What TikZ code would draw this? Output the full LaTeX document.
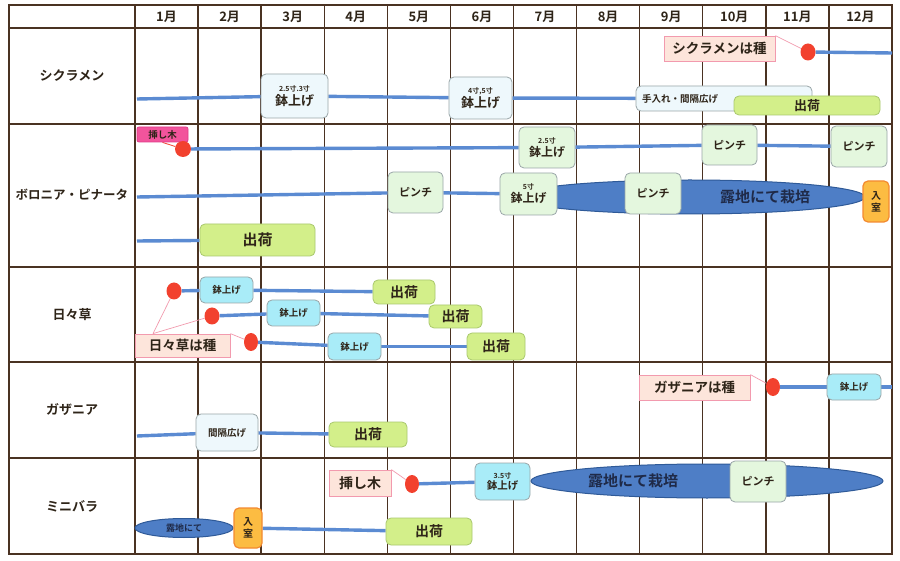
\documentclass[tikz,border=0pt]{standalone}
\usepackage{fontspec}
\setmainfont{Noto Sans CJK JP}[BoldFont={Noto Sans CJK JP Bold}]
\usetikzlibrary{shapes.geometric}
\pgfdeclarelayer{bg}\pgfdeclarelayer{mid}
\pgfsetlayers{bg,mid,main}
\definecolor{gridc}{HTML}{4A3222}
\definecolor{barc}{HTML}{5B8BD2}
\definecolor{txt}{HTML}{2E2418}
\definecolor{wfill}{HTML}{EEF8FC}
\definecolor{gfill}{HTML}{E4F7DE}
\definecolor{sfill}{HTML}{D3EF8A}
\definecolor{sdraw}{HTML}{A9C86E}
\definecolor{cfill}{HTML}{A9ECF8}
\definecolor{pfill}{HTML}{FDE5DB}
\definecolor{pdraw}{HTML}{F29AAE}
\definecolor{ofill}{HTML}{FCBC42}
\definecolor{odraw}{HTML}{F38A30}
\definecolor{mfill}{HTML}{F2549C}
\definecolor{mdraw}{HTML}{E03A88}
\definecolor{dotc}{HTML}{F2412E}
\definecolor{fieldc}{HTML}{4E7EC6}
\definecolor{fieldd}{HTML}{2F5A98}
\definecolor{fieldt}{HTML}{1F2A48}
\definecolor{boxd}{HTML}{9AA6A8}
\tikzset{
  fs/.style={font=\fontsize{#1}{#1}\selectfont\bfseries},
  gridline/.style={draw=gridc,line width=1.4pt},
  bar/.style={draw=barc,line width=3.4pt},
  leader/.style={draw=pdraw,line width=0.7pt},
  bx/.style={rectangle,rounded corners=5pt,draw=boxd,line width=0.8pt,inner sep=1pt,align=center,text=txt},
  wbox/.style={bx,fill=wfill},
  gbox/.style={bx,fill=gfill},
  sbox/.style={bx,fill=sfill,draw=sdraw},
  cbox/.style={bx,fill=cfill},
  pbox/.style={rectangle,fill=pfill,draw=pdraw,line width=0.8pt,inner sep=1pt,text=txt},
  obox/.style={bx,fill=ofill,draw=odraw,line width=1.2pt},
  mbox/.style={bx,fill=mfill,draw=mdraw,rounded corners=2pt},
  dot/.style={ellipse,fill=dotc,inner sep=0pt,minimum width=15pt,minimum height=17pt},
  field/.style={ellipse,fill=fieldc,draw=fieldd,line width=1pt,inner sep=0pt},
  wh/.style n args={2}{minimum width=#1pt,minimum height=#2pt},
  rowlab/.style={fs=13,text=txt},
  monlab/.style={fs=13,text=txt},
}
\newcommand{\smalltop}[1]{{\fontsize{7}{8}\selectfont\bfseries #1}}
\begin{document}
\begin{tikzpicture}[x=1pt,y=-1pt]
\useasboundingbox (0,0) rectangle (900,561);
% grid
\begin{pgfonlayer}{bg}
\fill[white] (0,0) rectangle (900,561);
\draw[gridline,line width=2.4pt] (9,5) rectangle (892,554);
\foreach \yy in {28,124,267,362,458} \draw[gridline] (9,\yy) -- (892,\yy);
\draw[gridline] (135,5) -- (135,554);
\foreach \i in {1,...,11} \draw[gridline] ({135+63.08*\i},5) -- ({135+63.08*\i},554);
\end{pgfonlayer}
% month labels
\foreach \i in {1,...,12} \node[monlab] (m\i) at ({135+63.08*(\i-0.5)},17) {\i 月};
% row labels
\node[rowlab] (r1) at (72,76) {シクラメン};
\node[rowlab,fs=12.5] (r2) at (72,195) {ボロニア・ピナータ};
\node[rowlab] (r3) at (72,315) {日々草};
\node[rowlab] (r4) at (72,410) {ガザニア};
\node[rowlab] (r5) at (72,506) {ミニバラ};

% ---------- Row 1 ----------
\coordinate (s1) at (137,99);
\node[wbox,wh={67}{44},fs=13] (b11) at (294.5,96) {\smalltop{2.5寸.3寸}\\[1pt]鉢上げ};
\node[wbox,wh={63}{42},fs=13] (b12) at (480.5,98) {\smalltop{4寸,5寸}\\[1pt]鉢上げ};
\node[wbox,wh={176}{25},text width=164pt,align=left,fs=9.5] (b13) at (724,98.5) {手入れ・間隔広げ};
\node[sbox,wh={146}{19},fs=13] (s11) at (807,105.5) {出荷};
\node[pbox,wh={111}{25},fs=13.5] (l1) at (719.5,48.5) {シクラメンは種};
\node[dot] (d1) at (808,52) {};
\coordinate (e1) at (892,53);
\begin{pgfonlayer}{mid}
\draw[bar] (s1) -- (b11);
\draw[bar] (b11) -- (b12);
\draw[bar] (b12) -- (b13);
\draw[bar] (d1) -- (e1);
\draw[leader] (l1.north east) -- (d1);
\end{pgfonlayer}

% ---------- Row 2 ----------
\node[mbox,wh={51}{15},fs=9.5] (m2) at (162.5,134.5) {挿し木};
\node[dot,minimum width=16pt,minimum height=16pt] (d2) at (183,149) {};
\node[gbox,wh={56}{41},fs=12] (b21) at (547,147.5) {\smalltop{2.5寸}\\[1pt]鉢上げ};
\node[gbox,wh={55}{40},fs=11] (p21) at (729.5,145) {ピンチ};
\node[gbox,wh={56}{41},fs=11] (p22) at (859,146.5) {ピンチ};
\coordinate (s2) at (137,197);
\node[field,wh={350}{34},label={[fs=15,text=fieldt,xshift=75pt]center:露地にて栽培}] (f2) at (690,197) {};
\node[gbox,wh={55}{41},fs=11] (p23) at (415.5,192.5) {ピンチ};
\node[gbox,wh={57}{42},fs=12] (b22) at (528.5,194) {\smalltop{5寸}\\[1pt]鉢上げ};
\node[gbox,wh={56}{41},fs=11] (p24) at (653,193.5) {ピンチ};
\node[obox,wh={26}{41},fs=10] (o2) at (876,201.5) {入\\[2pt]室};
\coordinate (s3) at (137,241);
\node[sbox,wh={115}{32},fs=15] (s21) at (257.5,240) {出荷};
\begin{pgfonlayer}{mid}
\draw[draw=dotc,line width=0.8pt] (m2.south) -- (d2);
\draw[bar] (d2) -- (b21);
\draw[bar] (b21) -- (p21);
\draw[bar] (p21) -- (p22);
\draw[bar] (s2) -- (p23);
\draw[bar] (p23) -- (b22);
\draw[bar] (s3) -- (s21);
\end{pgfonlayer}

% ---------- Row 3 ----------
\node[dot] (d31) at (174,291) {};
\node[dot] (d32) at (212,316) {};
\node[dot,minimum width=14pt,minimum height=18pt] (d33) at (251,342) {};
\node[cbox,wh={53}{26},fs=9.5] (c31) at (226.5,290) {鉢上げ};
\node[sbox,wh={62}{24},fs=14] (s31) at (404,292) {出荷};
\node[cbox,wh={53}{26},fs=9.5] (c32) at (293.5,313) {鉢上げ};
\node[sbox,wh={53}{23},fs=14] (s32) at (455.5,316.5) {出荷};
\node[cbox,wh={53}{27},fs=9.5] (c33) at (354.5,346.5) {鉢上げ};
\node[sbox,wh={58}{27},fs=14] (s33) at (496,346.5) {出荷};
\node[pbox,wh={95}{23},fs=13.5] (l3) at (182.5,345.5) {日々草は種};
\begin{pgfonlayer}{mid}
\draw[bar] (d31) -- (c31);
\draw[bar] (c31) -- (s31);
\draw[bar] (d32) -- (c32);
\draw[bar] (c32) -- (s32);
\draw[bar] (d33) -- (c33);
\draw[bar] (c33) -- (s33);
\draw[leader] (l3.158) -- (d31);
\draw[leader] (l3.158) -- (d32);
\draw[leader] (l3.north east) -- (d33);
\end{pgfonlayer}

% ---------- Row 4 ----------
\coordinate (s4) at (137,436);
\node[wbox,wh={62}{37},fs=9.5] (w41) at (227,432.5) {間隔広げ};
\node[sbox,wh={78}{25},fs=14] (s41) at (368,434.5) {出荷};
\node[pbox,wh={111}{25},fs=13.5] (l4) at (694.5,387.5) {ガザニアは種};
\node[dot,minimum width=14pt,minimum height=18pt] (d4) at (773,387) {};
\node[cbox,wh={54}{26},fs=9.5] (c41) at (854,387) {鉢上げ};
\coordinate (e4) at (892,387);
\begin{pgfonlayer}{mid}
\draw[bar] (s4) -- (w41);
\draw[bar] (w41) -- (s41);
\draw[bar] (d4) -- (c41);
\draw[bar] (c41) -- (e4);
\draw[leader] (l4.north east) -- (d4);
\end{pgfonlayer}

% ---------- Row 5 ----------
\node[pbox,wh={62}{26},fs=14] (l5) at (360,483) {挿し木};
\node[dot,minimum width=14pt,minimum height=18pt] (d5) at (412,484) {};
\node[cbox,wh={55}{37},fs=10.5] (c51) at (502.5,481.5) {\smalltop{3.5寸}\\[1pt]鉢上げ};
\node[field,wh={352}{34},label={[fs=15,text=fieldt,xshift=-74pt]center:露地にて栽培}] (f5) at (707,481) {};
\node[gbox,wh={56}{41},fs=11] (p51) at (758,481.5) {ピンチ};
\node[field,wh={98}{19},fs=9,text=fieldt] (f52) at (184,528) {露地にて};
\node[obox,wh={28}{40},fs=10] (o51) at (248,528) {入\\[2pt]室};
\node[sbox,wh={86}{27},fs=14] (s51) at (429,531.5) {出荷};
\begin{pgfonlayer}{mid}
\draw[leader] (l5.north east) -- (d5);
\draw[bar] (d5) -- (c51);
\draw[bar] (o51) -- (s51);
\end{pgfonlayer}
\end{tikzpicture}
\end{document}
